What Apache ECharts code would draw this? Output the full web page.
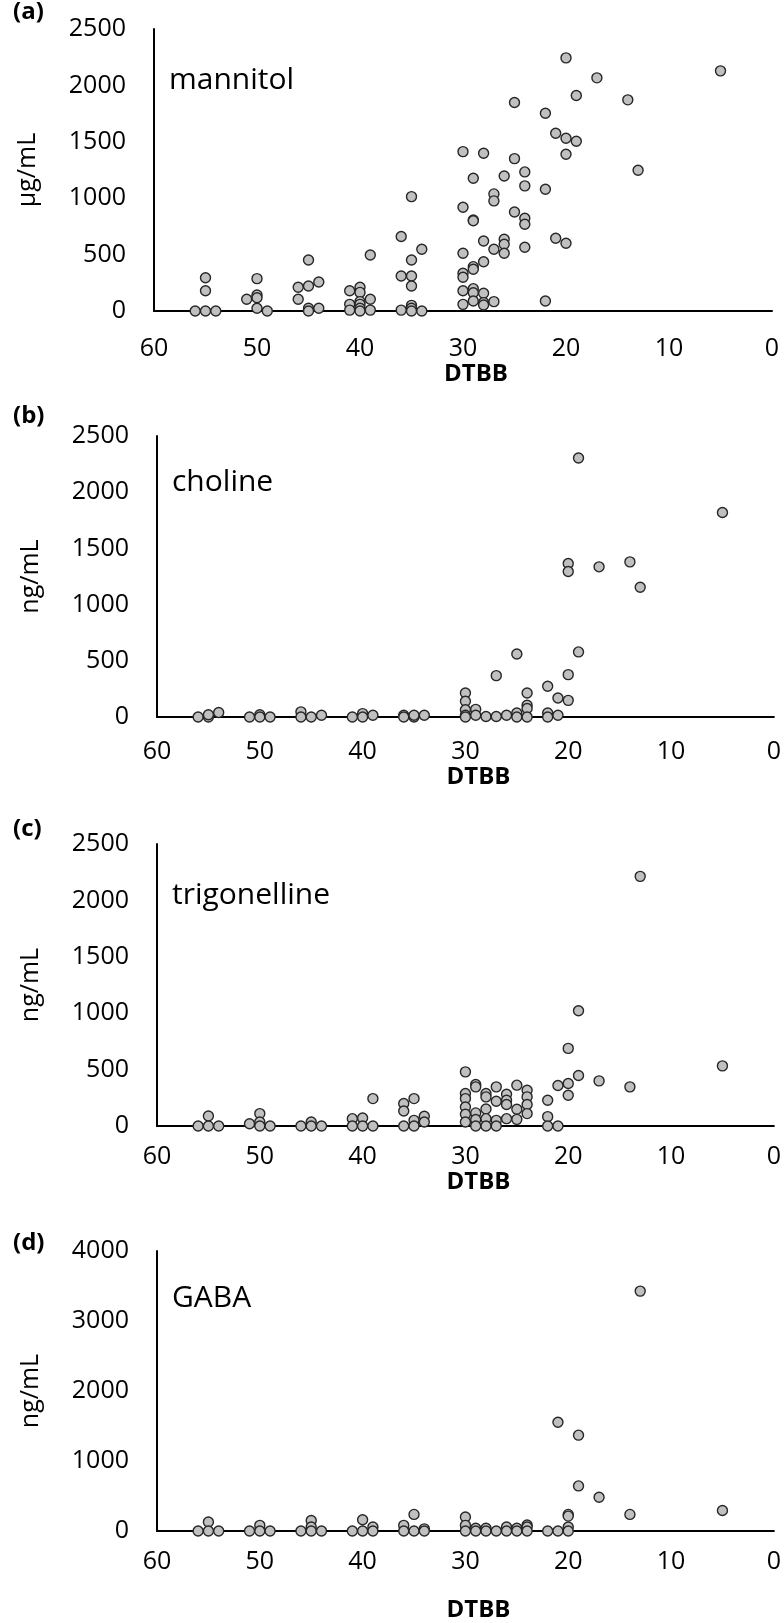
<!DOCTYPE html>
<html>
<head>
<meta charset="utf-8">
<script src="https://cdn.jsdelivr.net/npm/echarts@6/dist/echarts.min.js"></script>
<style>
  html, body { margin: 0; padding: 0; background: #ffffff; }
  #chart { width: 784px; height: 1623px; }
</style>
</head>
<body>
<div id="chart"></div>
<script>
// ---- Data (DTBB, concentration) ----
const mannitol = [
  [56,0],[55,0],[55,180],[55,295],[54,0],[51,104],[50,287],[50,142],[50,118],[50,24],[49,0],
  [46,104],[46,210],[45,452],[45,222],[45,24],[45,0],[44,257],[44,24],
  [41,180],[41,59],[41,8],[40,210],[40,165],[40,83],[40,59],[40,24],[40,0],[39,497],[39,104],[39,8],
  [36,660],[36,310],[36,8],[35,1014],[35,452],[35,310],[35,222],[35,50],[35,24],[35,0],[34,547],[34,0],
  [30,1413],[30,920],[30,512],[30,334],[30,299],[30,180],[30,59],
  [29,1177],[29,807],[29,800],[29,393],[29,370],[29,198],[29,162],[29,89],
  [28,1399],[28,621],[28,437],[28,157],[28,74],[28,53],
  [27,1038],[27,976],[27,547],[27,83],[26,1197],[26,636],[26,592],[26,512],
  [25,1848],[25,1351],[25,878],[24,1233],[24,1109],[24,822],[24,769],[24,565],
  [22,1753],[22,1079],[22,89],[21,1576],[21,645],[20,2244],[20,1532],[20,1390],[20,600],
  [19,1910],[19,1505],[17,2067],[14,1872],[13,1248],[5,2129]
];
const choline = [
  [56,0],[55,0],[55,20],[54,40],[51,0],[50,20],[50,0],[49,0],[46,46],[46,0],[45,0],[44,15],
  [41,0],[40,30],[40,0],[39,15],[36,15],[36,0],[35,0],[35,15],[34,15],
  [30,214],[30,140],[30,65],[30,15],[30,0],[29,68],[29,15],[28,5],[27,368],[27,5],[26,15],
  [25,561],[25,36],[25,0],[24,214],[24,104],[24,75],[24,0],[22,273],[22,36],[22,0],[21,169],[21,15],
  [20,1366],[20,1295],[20,377],[20,148],[19,2304],[19,579],[17,1336],[14,1380],[13,1155],[5,1820]
];
const trigonelline = [
  [56,0],[55,89],[55,0],[54,0],[51,20],[50,110],[50,36],[50,0],[49,0],[46,0],[45,36],[45,0],[44,0],
  [41,65],[41,0],[40,71],[40,0],[39,243],[39,0],[36,199],[36,133],[36,0],[35,243],[35,50],[35,0],[34,86],[34,36],
  [30,480],[30,288],[30,243],[30,169],[30,104],[30,36],[29,368],[29,347],[29,116],[29,57],[29,0],
  [28,288],[28,258],[28,151],[28,65],[28,0],[27,347],[27,219],[27,50],[27,0],
  [26,282],[26,228],[26,190],[26,65],[25,362],[25,148],[25,59],[24,317],[24,258],[24,190],[24,110],
  [22,228],[22,83],[22,0],[21,359],[21,0],[20,688],[20,377],[20,273],[19,1022],[19,448],
  [17,400],[14,347],[13,2213],[5,533]
];
const gaba = [
  [56,0],[55,128],[55,0],[54,0],[51,0],[50,80],[50,0],[49,0],[46,0],[45,151],[45,57],[45,0],[44,0],
  [41,0],[40,161],[40,0],[39,57],[39,0],[36,80],[36,0],[35,237],[35,0],[34,30],[34,0],
  [30,199],[30,80],[30,0],[29,40],[29,0],[28,40],[28,0],[27,0],[26,57],[26,0],[25,40],[25,0],
  [24,85],[24,57],[24,0],[22,0],[21,1554],[21,0],[20,237],[20,213],[20,57],[20,0],
  [19,1369],[19,644],[17,483],[14,237],[13,3427],[5,293]
];
const panelLetters = ['(a)', '(b)', '(c)', '(d)'];
const compoundNames = ['mannitol', 'choline', 'trigonelline', 'GABA'];
const unitNames = ['\u03bcg/mL', 'ng/mL', 'ng/mL', 'ng/mL'];
const yMax = [2500, 2500, 2500, 4000];
const yStep = [500, 500, 500, 1000];
const xTitle = 'DTBB';
const allData = [mannitol, choline, trigonelline, gaba];

// ---- Layout ----
const FONT = '"Open Sans", "Noto Sans", sans-serif';
const grids = [
  { left: 154, top: 29, width: 618, height: 282 },
  { left: 157, top: 436, width: 618, height: 281 },
  { left: 157, top: 844, width: 618, height: 282 },
  { left: 157, top: 1251, width: 618, height: 281 }
];
const labelMargin = [25, 22, 18, 18];
const titleGap = [41, 37, 34, 67];
const letterY = [17, 421, 834, 1248];
const nameTop = [36, 31, 36, 32];

const option = {
  animation: false,
  backgroundColor: '#ffffff',
  grid: grids.map(g => ({ left: g.left, top: g.top, width: g.width, height: g.height, containLabel: false })),
  xAxis: grids.map((g, i) => ({
    type: 'value', gridIndex: i, min: 0, max: 60, interval: 10, inverse: true,
    name: xTitle, nameLocation: 'middle', nameGap: titleGap[i],
    nameTextStyle: { fontFamily: FONT, fontSize: 24, fontWeight: 'bold', color: '#000', padding: [0, 0, 0, 26] },
    axisLine: { show: true, onZero: false, lineStyle: { color: '#000', width: 2 } },
    axisTick: { show: false }, splitLine: { show: false },
    axisLabel: { fontFamily: FONT, fontSize: 25, color: '#000', margin: labelMargin[i], formatter: v => String(v) }
  })),
  yAxis: grids.map((g, i) => ({
    type: 'value', gridIndex: i, min: 0, max: yMax[i], interval: yStep[i],
    name: unitNames[i], nameLocation: 'middle', nameGap: 114, nameRotate: 90,
    nameTextStyle: { fontFamily: FONT, fontSize: 25, color: '#000' },
    axisLine: { show: true, onZero: false, lineStyle: { color: '#000', width: 2 } },
    axisTick: { show: false }, splitLine: { show: false },
    axisLabel: { fontFamily: FONT, fontSize: 25, color: '#000', margin: 28, formatter: v => String(v) }
  })),
  series: allData.map((d, i) => ({
    type: 'scatter', xAxisIndex: i, yAxisIndex: i, data: d,
    symbol: 'circle', symbolSize: 10,
    itemStyle: { color: '#c0c0c0', borderColor: '#262626', borderWidth: 1.4, opacity: 1 }
  })),
  graphic: [].concat(
    panelLetters.map((t, i) => ({
      type: 'text', left: 13, top: letterY[i] - 17,
      style: { text: t, font: 'bold 24px ' + FONT, fill: '#000' }
    })),
    compoundNames.map((t, i) => ({
      type: 'text', left: grids[i].left + 15, top: grids[i].top + nameTop[i],
      style: { text: t, font: '30px ' + FONT, fill: '#000' }
    }))
  )
};

const chart = echarts.init(document.getElementById('chart'), null, { renderer: 'canvas' });
chart.setOption(option);
</script>
</body>
</html>
